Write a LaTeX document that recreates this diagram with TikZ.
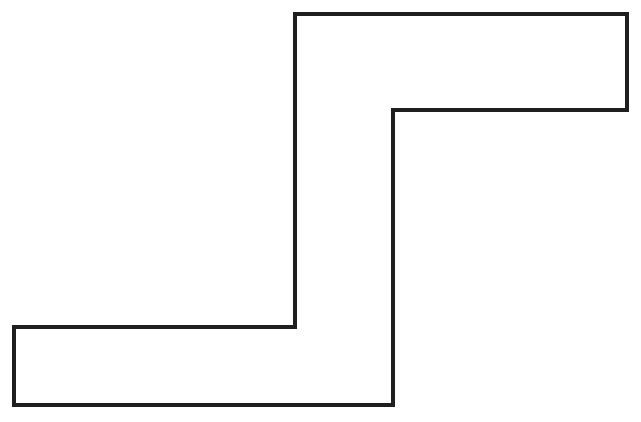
\documentclass[tikz,border=0pt]{standalone}
\begin{document}
\begin{tikzpicture}

% Fix the picture size to the reference proportions
\useasboundingbox (0,0) rectangle (12.82,8.42);

% Define coordinates for the corners of the Z shape
\coordinate (P1) at (5.90,8.14);   % Top left of upper arm
\coordinate (P2) at (12.54,8.14);  % Top right
\coordinate (P3) at (12.54,6.22);  % Bottom right of upper arm
\coordinate (P4) at (7.86,6.22);   % Inner corner, upper
\coordinate (P5) at (7.86,0.32);   % Bottom right of lower arm
\coordinate (P6) at (0.28,0.32);   % Bottom left
\coordinate (P7) at (0.28,1.88);   % Top left of lower arm
\coordinate (P8) at (5.90,1.88);   % Inner corner, lower

% Draw the outline
\draw[line width=2.2pt, black!88] (P1) -- (P2) -- (P3) -- (P4) -- (P5) -- (P6) -- (P7) -- (P8) -- cycle;

\end{tikzpicture}
\end{document}
